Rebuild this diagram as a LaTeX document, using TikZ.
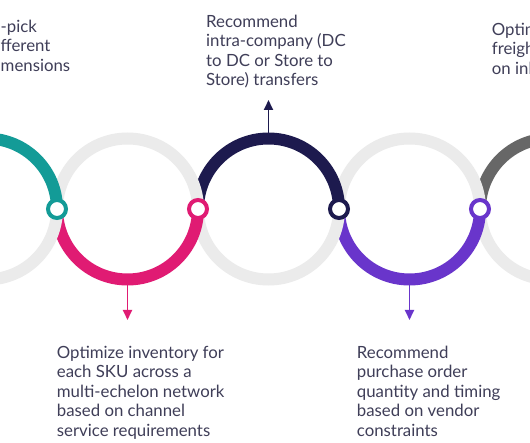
\documentclass[tikz,border=0pt]{standalone}
\usepackage{fontspec}
\setmainfont{Lato}
\usetikzlibrary{arrows.meta}
\definecolor{Teal}{HTML}{139B97}
\definecolor{Pink}{HTML}{E01B73}
\definecolor{Navy}{HTML}{1D1A4E}
\definecolor{Purple}{HTML}{6935CB}
\definecolor{Slate}{HTML}{676767}
\definecolor{RingGray}{HTML}{EBEBEB}
\definecolor{TextInk}{HTML}{3F3E58}

\begin{document}
\begin{tikzpicture}[x=1pt,y=1pt,
  ring/.style={line width=12pt},
  hub/.style={circle,fill=white,draw=#1,line width=4pt,minimum size=18pt,inner sep=0pt},
  lift/.style={#1,line width=1.8pt,-{Triangle[length=10pt,width=9pt]}},
  blurb/.style={TextInk,font=\fontsize{16.8}{19.4}\selectfont,align=left,anchor=north west,inner sep=0pt}]
\useasboundingbox (0,0) rectangle (530,442);
\clip (0,0) rectangle (530,442);
\fill[white] (0,0) rectangle (530,442);
\foreach \cx/\col/\up in {550.5/Slate/1,409.5/Purple/0,268.5/Navy/1,127.5/Pink/0,-13.5/Teal/1}{
  \ifnum\up=1
    \draw[ring,RingGray] (\cx+70.5,233) arc[start angle=0,end angle=-180,radius=70.5];
    \draw[ring,\col] (\cx-70.5,233) arc[start angle=180,end angle=0,radius=70.5];
  \else
    \draw[ring,RingGray] (\cx+70.5,233) arc[start angle=0,end angle=180,radius=70.5];
    \draw[ring,\col] (\cx-70.5,233) arc[start angle=180,end angle=360,radius=70.5];
  \fi
}
\foreach \n/\x/\col in {a/57/Teal,b/198/Pink,c/339/Navy,d/480/Purple}{\node[hub=\col] (hub\n) at (\x,233) {};}
\coordinate (navyTop) at (268.5,305);\coordinate (navyTip) at (268.5,342);
\coordinate (pinkLow) at (127.5,160);\coordinate (pinkTip) at (127.5,122);
\coordinate (purpleLow) at (409.5,160);\coordinate (purpleTip) at (409.5,122);
\draw[lift=Navy] (navyTop)--(navyTip);
\draw[lift=Pink] (pinkLow)--(pinkTip);
\draw[lift=Purple] (purpleLow)--(purpleTip);
\node[blurb] (pickNote) at (0.5,422) {-pick\\fferent\\mensions};
\node[blurb] (transferNote) at (206,427) {Recommend\\intra-company (DC\\to DC or Store to\\Store) transfers};
\node[blurb] (freightNote) at (491.7,419) {Optim\\freigh\\on inb};
\node[blurb] (inventoryNote) at (56.7,96) {Optimize inventory for\\each SKU across a\\multi-echelon network\\based on channel\\service requirements};
\node[blurb] (orderNote) at (356.7,96) {Recommend\\purchase order\\quantity and timing\\based on vendor\\constraints};
\end{tikzpicture}
\end{document}
